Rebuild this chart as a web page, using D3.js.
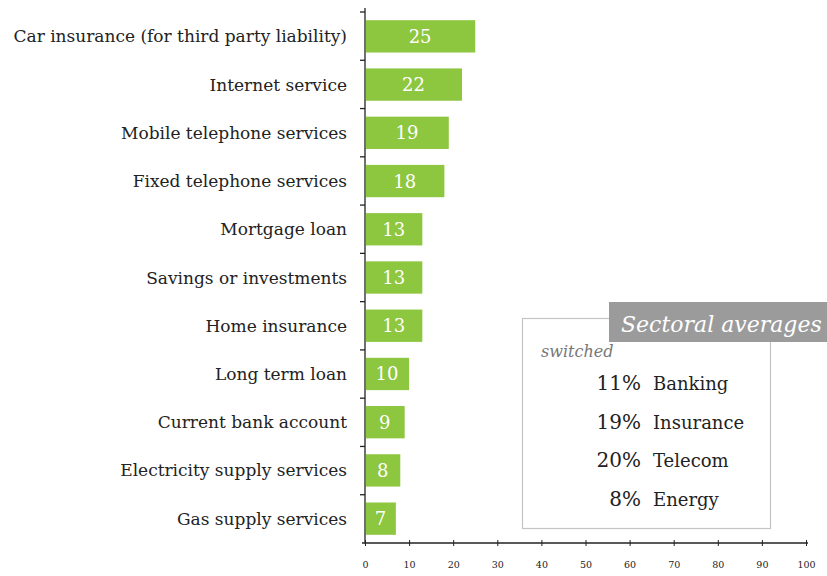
<!DOCTYPE html>
<html>
<head>
<meta charset="utf-8">
<script src="https://cdn.jsdelivr.net/npm/d3@7"></script>
<style>
  body { margin: 0; background: #fff; }
  svg { display: block; }
  text { font-family: "DejaVu Serif", "Liberation Serif", serif; }
</style>
</head>
<body>
<svg id="chart" width="827" height="576"></svg>
<script>
// Share of consumers who switched provider, by service (%)
const services = [
  "Car insurance (for third party liability)",
  "Internet service",
  "Mobile telephone services",
  "Fixed telephone services",
  "Mortgage loan",
  "Savings or investments",
  "Home insurance",
  "Long term loan",
  "Current bank account",
  "Electricity supply services",
  "Gas supply services"
];
const switched = [25, 22, 19, 18, 13, 13, 13, 10, 9, 8, 7];

// Sectoral averages
const sectors = ["Banking", "Insurance", "Telecom", "Energy"];
const sectorAvg = [11, 19, 20, 8];

const xTicks = [0, 10, 20, 30, 40, 50, 60, 70, 80, 90, 100];

const svg = d3.select("#chart");
const plotLeft = 365, plotRight = 806, plotTop = 12, plotBottom = 543;

const x = d3.scaleLinear().domain([0, 100]).range([plotLeft, plotRight]);
const y = d3.scaleBand().domain(services).range([plotTop, plotBottom]).paddingInner(0.33).paddingOuter(0.17);
const band = d3.scaleBand().domain(services).range([plotTop, plotBottom]);

// Bars
svg.append("g").selectAll("rect")
  .data(services)
  .join("rect")
  .attr("x", x(0) + 1)
  .attr("y", d => y(d))
  .attr("width", (d, i) => x(switched[i]) - x(0) - 1)
  .attr("height", y.bandwidth())
  .attr("fill", "#8dc63f");

// Value labels inside bars
svg.append("g").selectAll("text")
  .data(services)
  .join("text")
  .attr("x", (d, i) => (x(0) + x(switched[i])) / 2)
  .attr("y", d => y(d) + y.bandwidth() / 2 + 6.5)
  .attr("text-anchor", "middle")
  .attr("fill", "#fff")
  .attr("font-size", 18)
  .text((d, i) => switched[i]);

// Category labels
svg.append("g").selectAll("text")
  .data(services)
  .join("text")
  .attr("x", 347)
  .attr("y", d => y(d) + y.bandwidth() / 2 + 6)
  .attr("text-anchor", "end")
  .attr("fill", "#222")
  .attr("font-size", 17)
  .text(d => d);

// Vertical axis with tick marks between categories
const yAxisG = svg.append("g");
yAxisG.append("line")
  .attr("x1", x(0)).attr("x2", x(0))
  .attr("y1", plotTop - 4).attr("y2", plotBottom)
  .attr("stroke", "#222").attr("stroke-width", 1.3);
yAxisG.selectAll("line.t")
  .data(services)
  .join("line")
  .attr("class", "t")
  .attr("x1", x(0) - 5).attr("x2", x(0))
  .attr("y1", d => band(d)).attr("y2", d => band(d))
  .attr("stroke", "#222").attr("stroke-width", 1.3);

// Horizontal axis
const xAxis = d3.axisBottom(x).tickValues(xTicks).tickSize(3).tickSizeOuter(0);
const xg = svg.append("g")
  .attr("transform", `translate(0,${plotBottom})`)
  .call(xAxis);
xg.select(".domain").attr("stroke", "#222").attr("stroke-width", 1.3)
  .attr("d", `M${x(0) - 3},0H${x(100) + 2}`);
xg.selectAll(".tick line").attr("stroke", "#222").attr("y1", -3).attr("y2", 3);
xg.selectAll(".tick text")
  .attr("y", 18)
  .attr("font-size", 9.5)
  .attr("font-family", "DejaVu Serif, serif")
  .attr("fill", "#222");

// Sectoral averages box
const box = svg.append("g");
box.append("rect")
  .attr("x", 522.5).attr("y", 318.5)
  .attr("width", 248).attr("height", 210)
  .attr("fill", "#fff").attr("stroke", "#c4c4c4").attr("stroke-width", 1.2);
box.append("rect")
  .attr("x", 609).attr("y", 302)
  .attr("width", 218).attr("height", 40)
  .attr("fill", "#9b9b9b");
box.append("text")
  .attr("x", 621).attr("y", 332)
  .attr("fill", "#fff")
  .attr("font-size", 22)
  .attr("font-style", "italic")
  .text("Sectoral averages");
box.append("text")
  .attr("x", 541).attr("y", 357)
  .attr("fill", "#777")
  .attr("font-size", 16)
  .attr("font-style", "italic")
  .text("switched");

const rowY = d3.scaleBand().domain(sectors).range([361, 515]);
box.selectAll("text.pct")
  .data(sectors)
  .join("text")
  .attr("class", "pct")
  .attr("x", 641)
  .attr("y", d => rowY(d) + 29)
  .attr("text-anchor", "end")
  .attr("fill", "#222")
  .attr("font-size", 20)
  .text((d, i) => sectorAvg[i] + "%");
box.selectAll("text.name")
  .data(sectors)
  .join("text")
  .attr("class", "name")
  .attr("x", 653)
  .attr("y", d => rowY(d) + 29)
  .attr("fill", "#222")
  .attr("font-size", 18)
  .text(d => d);
</script>
</body>
</html>
